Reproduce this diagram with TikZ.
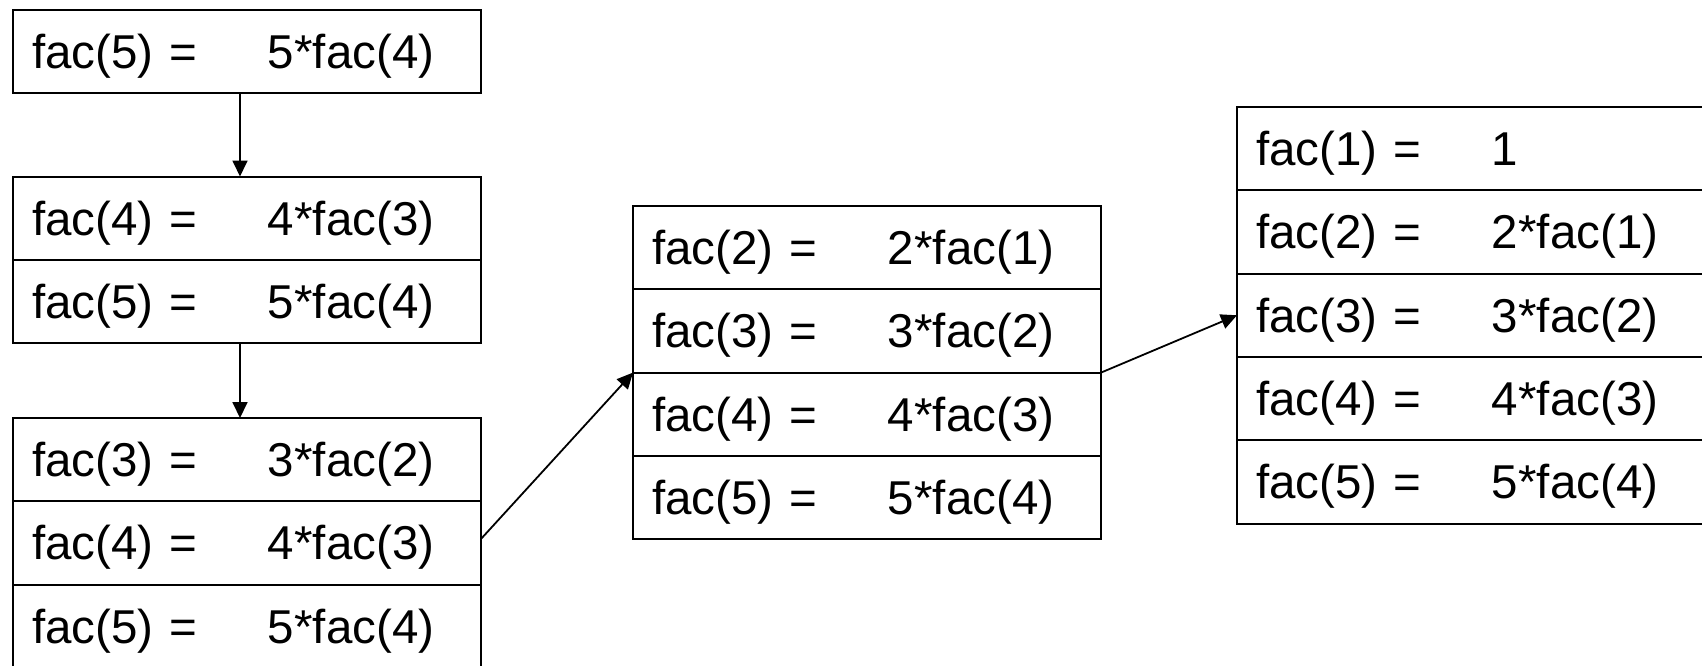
\documentclass[tikz,border=0pt]{standalone}
\usepackage{fontspec}
\setmainfont{Liberation Sans}
\usetikzlibrary{arrows.meta,positioning}
\tikzset{
  row/.style={draw,rectangle,line width=2pt,inner xsep=19pt,inner ysep=0pt,outer sep=0pt,
    minimum width=468pt,minimum height=83.3pt,text width=430pt,align=left,
    text height=34pt,text depth=0pt,font=\fontsize{47.5}{57}\selectfont},
  arr/.style={-{Triangle[length=16pt,width=15pt]},line width=1.8pt}
}
\newcommand{\facrow}[2]{\makebox[236pt][l]{#1}#2}

\begin{document}
\begin{tikzpicture}[x=1pt,y=1pt,node distance=0pt]
  \useasboundingbox (0,0) rectangle (1702,-665);
  \clip (0,0) rectangle (1702,-665);

  % first call
  \node[row,anchor=north west] (a5) at (13,-10) {\facrow{fac(5) =}{5*fac(4)}};

  % second call
  \node[row,anchor=north west] (b4) at (13,-176.5) {\facrow{fac(4) =}{4*fac(3)}};
  \node[row,below=of b4] (b5) {\facrow{fac(5) =}{5*fac(4)}};

  % third call
  \node[row,anchor=north west] (c3) at (13,-418) {\facrow{fac(3) =}{3*fac(2)}};
  \node[row,below=of c3] (c4) {\facrow{fac(4) =}{4*fac(3)}};
  \node[row,below=of c4] (c5) {\facrow{fac(5) =}{5*fac(4)}};

  % fourth call
  \node[row,anchor=north west] (d2) at (633,-206) {\facrow{fac(2) =}{2*fac(1)}};
  \node[row,below=of d2] (d3) {\facrow{fac(3) =}{3*fac(2)}};
  \node[row,below=of d3] (d4) {\facrow{fac(4) =}{4*fac(3)}};
  \node[row,below=of d4] (d5) {\facrow{fac(5) =}{5*fac(4)}};

  % base case
  \node[row,anchor=north west] (e1) at (1237,-107) {\facrow{fac(1) =}{1}};
  \node[row,below=of e1] (e2) {\facrow{fac(2) =}{2*fac(1)}};
  \node[row,below=of e2] (e3) {\facrow{fac(3) =}{3*fac(2)}};
  \node[row,below=of e3] (e4) {\facrow{fac(4) =}{4*fac(3)}};
  \node[row,below=of e4] (e5) {\facrow{fac(5) =}{5*fac(4)}};

  \draw[arr] ([xshift=-7pt]a5.south) -- ([xshift=-7pt]b4.north);
  \draw[arr] ([xshift=-7pt]b5.south) -- ([xshift=-7pt]c3.north);
  \draw[arr] ([yshift=4pt]c4.east) -- (d4.north west);
  \draw[arr] (d4.north east) -- (e3.west);
\end{tikzpicture}
\end{document}
